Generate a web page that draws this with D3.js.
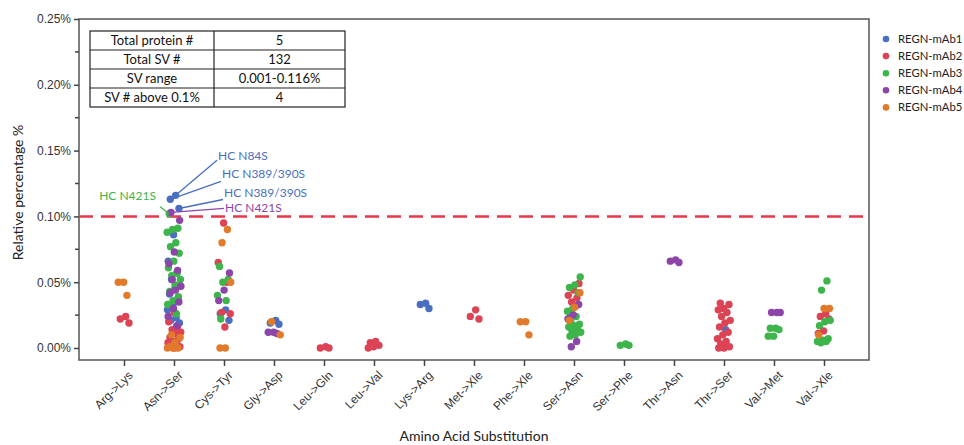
<!DOCTYPE html>
<html>
<head>
<meta charset="utf-8">
<script src="https://cdn.jsdelivr.net/npm/d3@7"></script>
<style>
  body { margin: 0; background: #fff; }
  svg { font-family: Lato, "Liberation Sans", sans-serif; }
</style>
</head>
<body>
<div id="chart"></div>
<script>
// categories on the x axis
const categories = ["Arg->Lys", "Asn->Ser", "Cys->Tyr", "Gly->Asp", "Leu->Gln", "Leu->Val", "Lys->Arg",
  "Met->Xle", "Phe->Xle", "Ser->Asn", "Ser->Phe", "Thr->Asn", "Thr->Ser", "Val->Met", "Val->Xle"];

const seriesNames = ["REGN-mAb1", "REGN-mAb2", "REGN-mAb3", "REGN-mAb4", "REGN-mAb5"];
const seriesColors = ["#4a6fc1", "#dc4455", "#3db54b", "#8c46a9", "#e17b2b"];

// relative percentage (%) per category, one array per antibody
const mAb1 = [[], [0.116, 0.113, 0.106, 0.086, 0.066, 0.057, 0.052, 0.047, 0.045, 0.041, 0.038, 0.033, 0.029, 0.023, 0.021, 0.019],
  [0.029, 0.026, 0.021], [0.021, 0.019, 0.018], [], [], [0.034, 0.033, 0.030], [], [], [0.032, 0.026], [], [], [0.014], [], []];
const mAb2 = [[0.024, 0.022, 0.019], [0.027, 0.020, 0.016, 0.014, 0.012, 0.011, 0.008, 0.007, 0.005, 0.004, 0.003, 0.002, 0.001, 0.000],
  [0.095, 0.065, 0.050, 0.027, 0.026, 0.016], [], [0.001, 0.000, 0.000], [0.005, 0.004, 0.002, 0.001, 0.000], [],
  [0.029, 0.024, 0.022], [], [0.049, 0.044, 0.040, 0.038, 0.035], [], [],
  [0.034, 0.033, 0.030, 0.029, 0.027, 0.024, 0.021, 0.019, 0.016, 0.012, 0.010, 0.007, 0.005, 0.003, 0.001, 0.000, 0.000], [],
  [0.026, 0.024, 0.022, 0.013, 0.011]];
const mAb3 = [[], [0.102, 0.091, 0.090, 0.088, 0.080, 0.077, 0.072, 0.066, 0.061, 0.057, 0.055, 0.052, 0.048, 0.043, 0.039, 0.036, 0.033, 0.026],
  [0.062, 0.052, 0.050, 0.040, 0.036, 0.022], [], [], [], [], [], [],
  [0.054, 0.048, 0.046, 0.042, 0.030, 0.028, 0.024, 0.020, 0.018, 0.017, 0.016, 0.014, 0.013, 0.012, 0.010, 0.009],
  [0.003, 0.002, 0.002], [], [], [0.015, 0.015, 0.014, 0.009, 0.009],
  [0.051, 0.044, 0.021, 0.020, 0.017, 0.007, 0.006, 0.005, 0.005, 0.004]];
const mAb4 = [[], [0.103, 0.097, 0.073, 0.064, 0.059, 0.052, 0.047, 0.044, 0.042, 0.035, 0.030, 0.024, 0.017],
  [0.057, 0.044, 0.036], [0.012, 0.012, 0.011], [], [], [], [], [], [0.033, 0.025, 0.022, 0.005, 0.001], [],
  [0.067, 0.066, 0.065], [], [0.027, 0.027, 0.027], []];
const mAb5 = [[0.050, 0.050, 0.040], [0.010, 0.008, 0.004, 0.001, 0.000, 0.000, 0.000], [0.090, 0.080, 0.050, 0.000, 0.000],
  [0.020, 0.010], [], [], [], [], [0.020, 0.020, 0.010], [0.042, 0.031, 0.021], [], [], [], [], [0.030, 0.030, 0.010]];
const seriesValues = [mAb1, mAb2, mAb3, mAb4, mAb5];

const yTicks = [0, 0.05, 0.10, 0.15, 0.20, 0.25];
const threshold = 0.1;

// summary table
const tableRows = [["Total protein #", "5"], ["Total SV #", "132"], ["SV range", "0.001-0.116%"], ["SV # above 0.1%", "4"]];

// labelled points: series index, category, value, text
const notes = [
  { s: 0, cat: "Asn->Ser", v: 0.116, text: "HC N84S" },
  { s: 0, cat: "Asn->Ser", v: 0.113, text: "HC N389/390S" },
  { s: 0, cat: "Asn->Ser", v: 0.106, text: "HC N389/390S" },
  { s: 3, cat: "Asn->Ser", v: 0.103, text: "HC N421S" },
  { s: 2, cat: "Asn->Ser", v: 0.102, text: "HC N421S" }
];
// label anchor: x offset from category centre, y offset from point, text baseline shift
const noteOffsets = [[43, -35, 0], [47, -18, -3], [49, -9, -3], [50, -4, 4], [-14, -7, -7]];

const width = 964, height = 445;
const margin = { top: 19, right: 95, bottom: 85, left: 79 };
const plotBottom = height - margin.bottom; // 360

const svg = d3.select('#chart').append('svg')
  .attr('width', width)
  .attr('height', height);

const x = d3.scalePoint().domain(categories).range([margin.left, width - margin.right]).padding(0.9);
const y = d3.scaleLinear().domain([0, 0.25]).range([348, margin.top]);

// frame
svg.append('rect')
  .attr('x', margin.left).attr('y', margin.top)
  .attr('width', width - margin.right - margin.left)
  .attr('height', plotBottom - margin.top)
  .attr('fill', 'none').attr('stroke', '#555').attr('stroke-width', 1.5);

// y axis
const yAxis = svg.append('g').attr('transform', `translate(${margin.left},0)`)
  .call(d3.axisLeft(y).tickValues(yTicks).tickSize(5).tickFormat(d => d.toFixed(2) + '%'));
yAxis.select('.domain').remove();
yAxis.selectAll('line').attr('stroke', '#444').attr('stroke-width', 1.5);
yAxis.selectAll('text').attr('font-size', 12).attr('fill', '#333').attr('x', -8);
svg.append('g').attr('transform', `translate(${margin.left},0)`)
  .selectAll('line').data(d3.range(0.025, 0.25, 0.05)).join('line')
  .attr('x1', -4).attr('x2', 0).attr('y1', d => y(d)).attr('y2', d => y(d))
  .attr('stroke', '#444').attr('stroke-width', 1.5);

// x axis
const xAxis = svg.append('g').attr('transform', `translate(0,${plotBottom})`)
  .call(d3.axisBottom(x).tickSize(6));
xAxis.select('.domain').remove();
xAxis.selectAll('line').attr('stroke', '#444').attr('stroke-width', 1.5);
xAxis.selectAll('text')
  .attr('font-size', 12).attr('fill', '#333')
  .attr('text-anchor', 'end')
  .attr('transform', 'translate(6,13) rotate(-45)')
  .attr('x', 0).attr('y', 0).attr('dy', '0.35em');

// axis titles
svg.append('text')
  .attr('x', (margin.left + width - margin.right) / 2).attr('y', 441)
  .attr('text-anchor', 'middle').attr('font-size', 14).attr('fill', '#222')
  .text('Amino Acid Substitution');
svg.append('text')
  .attr('transform', `translate(23,${(margin.top + plotBottom) / 2 + 3}) rotate(-90)`)
  .attr('text-anchor', 'middle').attr('font-size', 14).attr('fill', '#222')
  .text('Relative percentage %');

// threshold line
svg.append('line')
  .attr('x1', margin.left).attr('x2', width - margin.right)
  .attr('y1', y(threshold)).attr('y2', y(threshold))
  .attr('stroke', '#e8364b').attr('stroke-width', 2.5).attr('stroke-dasharray', '14,8');

// points with deterministic jitter inside each category
const counters = {};
const points = [];
seriesValues.forEach((arr, s) => {
  arr.forEach((vals, ci) => {
    const cat = categories[ci];
    vals.forEach(v => {
      const k = counters[cat] = (counters[cat] || 0) + 1;
      const f = (k * 0.618034) % 1;
      points.push({ s, cat, v, px: x(cat) + (f - 0.5) * 14, py: y(v) });
    });
  });
});

svg.append('g').selectAll('circle').data(points).join('circle')
  .attr('cx', d => d.px).attr('cy', d => d.py).attr('r', 3.7)
  .attr('fill', d => seriesColors[d.s]);

// annotations
notes.forEach((n, i) => {
  const p = points.find(d => d.s === n.s && d.cat === n.cat && d.v === n.v);
  const [dx, dy, tdy] = noteOffsets[i];
  const lx = x(n.cat) + dx, ly = p.py + dy;
  const col = seriesColors[n.s];
  svg.append('line').attr('x1', p.px).attr('y1', p.py).attr('x2', lx).attr('y2', ly)
    .attr('stroke', col).attr('stroke-width', 1.3);
  svg.append('text')
    .attr('x', dx > 0 ? lx + 1 : lx - 4).attr('y', ly + tdy)
    .attr('text-anchor', dx > 0 ? 'start' : 'end')
    .attr('font-size', 12).attr('fill', col)
    .text(n.text);
});

// table
const tx = 90, ty = 31, colW = [124, 131], rowH = 19;
const tbl = svg.append('g');
tbl.append('rect').attr('x', tx).attr('y', ty).attr('width', colW[0] + colW[1]).attr('height', rowH * tableRows.length)
  .attr('fill', '#fff').attr('stroke', '#222').attr('stroke-width', 1.2);
tbl.append('line').attr('x1', tx + colW[0]).attr('x2', tx + colW[0]).attr('y1', ty).attr('y2', ty + rowH * tableRows.length)
  .attr('stroke', '#222').attr('stroke-width', 1.2);
tableRows.forEach((r, i) => {
  if (i > 0) tbl.append('line').attr('x1', tx).attr('x2', tx + colW[0] + colW[1])
    .attr('y1', ty + i * rowH).attr('y2', ty + i * rowH).attr('stroke', '#222').attr('stroke-width', 1.2);
  tbl.append('text').attr('x', tx + colW[0] / 2).attr('y', ty + i * rowH + rowH / 2).attr('dy', '0.35em')
    .attr('text-anchor', 'middle').attr('font-size', 13).attr('fill', '#111').text(r[0]);
  tbl.append('text').attr('x', tx + colW[0] + colW[1] / 2).attr('y', ty + i * rowH + rowH / 2).attr('dy', '0.35em')
    .attr('text-anchor', 'middle').attr('font-size', 13).attr('fill', '#111').text(r[1]);
});

// legend
const legend = svg.append('g').attr('transform', 'translate(886,39)');
seriesNames.forEach((name, i) => {
  const g = legend.append('g').attr('transform', `translate(0,${i * 17.1})`);
  g.append('circle').attr('r', 3.3).attr('fill', seriesColors[i]);
  g.append('text').attr('x', 12).attr('dy', '0.35em').attr('font-size', 11.3).attr('fill', '#222').text(name);
});
</script>
</body>
</html>
